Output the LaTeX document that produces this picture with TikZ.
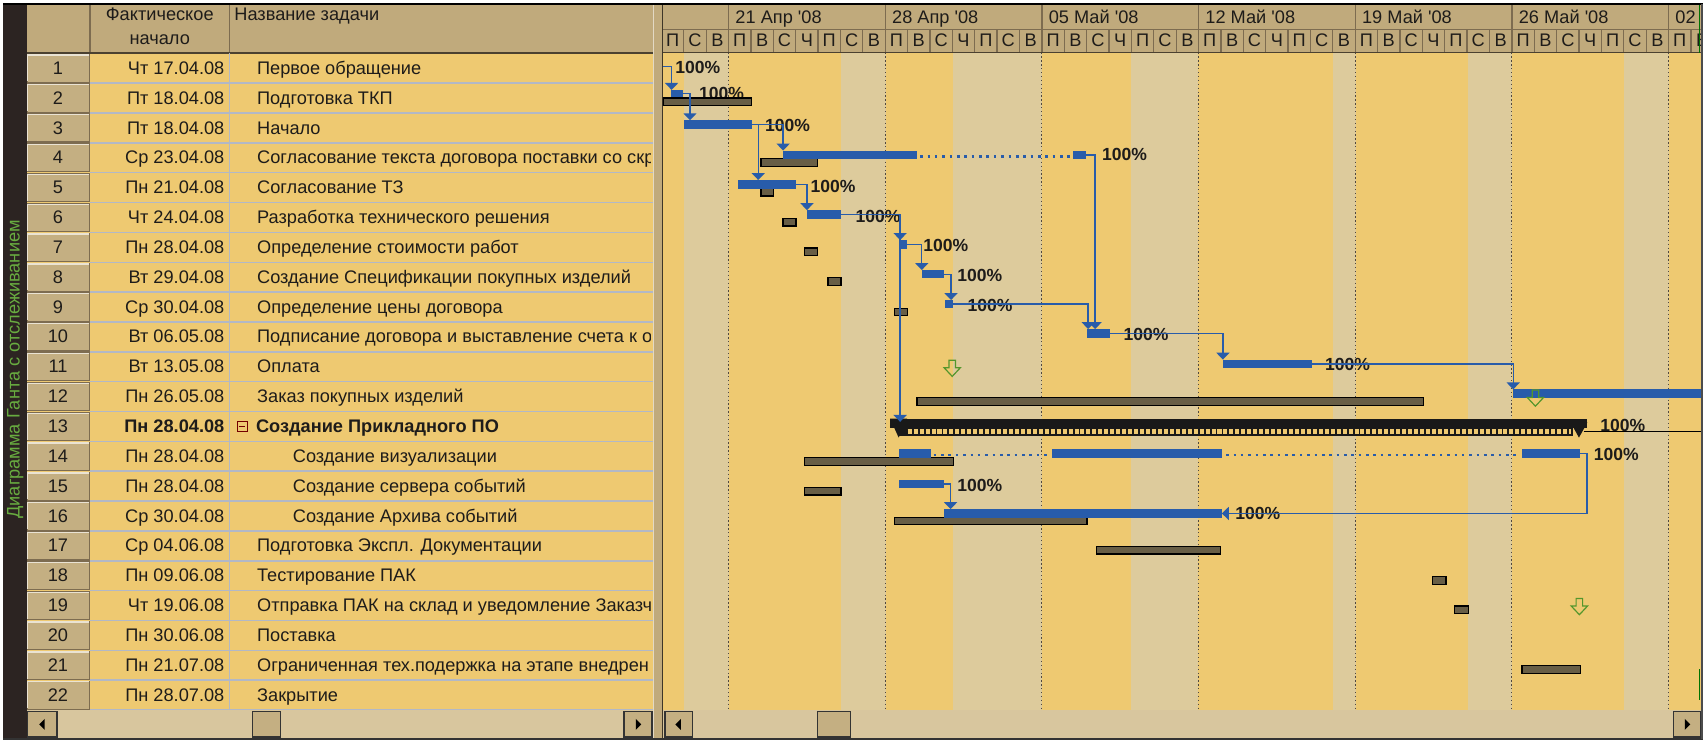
\documentclass[tikz,border=0pt]{standalone}
\usepackage{fontspec}
\setmainfont{Liberation Sans}[Ligatures=TeXOff]
\usetikzlibrary{arrows.meta,fit,calc}

\definecolor{rowbg}{RGB}{238,201,113}
\definecolor{hdr}{RGB}{192,170,124}
\definecolor{hdrline}{RGB}{125,108,80}
\definecolor{sepc}{RGB}{178,184,198}
\definecolor{nwshade}{RGB}{221,203,156}
\definecolor{wkline}{RGB}{80,72,64}
\definecolor{gblue}{RGB}{40,92,170}
\definecolor{hatchc}{RGB}{104,94,70}
\definecolor{darkstrip}{RGB}{44,36,34}
\definecolor{vgreen}{RGB}{104,172,64}
\definecolor{trk}{RGB}{216,198,158}
\definecolor{btn}{RGB}{196,175,130}
\definecolor{arrgreen}{RGB}{84,150,44}
\definecolor{txt}{RGB}{30,28,26}

\newcommand\gbar[6]{\coordinate (#2-a) at (#3,#4);\coordinate (#2-b) at (#5,#6);\node[#1,fit=(#2-a)(#2-b)] (#2) {};}
\newcommand\dayletter[1]{\ifcase#1 П\or В\or С\or Ч\or П\or С\or В\fi}
\newcommand\trow[4]{\pgfmathsetmacro\cyb{63+27.56*(#1-1)+5.6}%
 \node[numtxt] (r#1) at (53.5,\cyb) {#1};%
 \node[datetxt] (d#1) at (207.5,\cyb) {#2};%
 \node[nametxt] (n#1) at (#4,\cyb) {#3};}
\newcommand\garrow[3]{\coordinate (#1) at (#2,#3);\draw[arrgreen, line width=0.55pt] (#1) ++(4.5,0) -- ++(6,0) -- ++(0,7) -- ++(4.5,0) -- ++(-7.5,8) -- ++(-7.5,-8) -- ++(4.5,0) -- cycle;}
\newcommand\sbtn[3]{\coordinate (#1-a) at (#2,657);\coordinate (#1-b) at (#3,680.5);\node[sbutton,fit=(#1-a)(#1-b)] (#1) {};}

\tikzset{
 bluebar/.style={fill=gblue, draw=none, inner sep=0pt, outer sep=0pt, rectangle},
 basebar/.style={fill=hatchc, draw=black, line width=0.6pt, inner sep=0pt, outer sep=0pt, rectangle},
 sumtop/.style={fill=black!90, draw=none, inner sep=0pt, outer sep=0pt, rectangle},
 conn/.style={draw=gblue, line width=0.65pt, -{Triangle[width=6pt,length=3.2pt]}},
 pct/.style={anchor=base west, inner sep=0pt, text=txt, font=\fontsize{8.1}{9.6}\selectfont\bfseries},
 dotl/.style={draw=gblue, line width=1.2pt, dash pattern=on 1.2pt off 2.2pt},
 numtxt/.style={anchor=base, inner sep=0pt, text=txt},
 datetxt/.style={anchor=base east, inner sep=0pt, text=txt},
 nametxt/.style={anchor=base west, inner sep=0pt, text=txt},
 hdrtxt/.style={inner sep=0pt, text=txt},
 sbutton/.style={fill=btn, draw=black!80, line width=0.6pt, inner sep=0pt, outer sep=0pt, rectangle},
}

\begin{document}
\begin{tikzpicture}[x=0.5pt,y=-0.5pt,font=\fontsize{8.4}{9.6}\selectfont]
\useasboundingbox (0,0) rectangle (1575,687);
\fill[white] (0,0) rectangle (1575,687);

% ---------- left table ----------
\fill[darkstrip] (3,4) rectangle (24.5,682);
\node[rotate=90, text=vgreen, inner sep=0pt] (vlab) at (14,341) {Диаграмма Ганта с отслеживанием};
\fill[hdr] (24.5,4.5) rectangle (603,49);
\fill[rowbg] (24.5,49) rectangle (603,655.5);
\draw[hdrline, line width=0.7pt] (83,4.5) -- (83,49) (212,4.5) -- (212,49);
\draw[hdrline!60!black, line width=0.9pt] (24.5,49) -- (603,49);
\node[hdrtxt, anchor=base] (h1) at (147.5,19.3) {Фактическое};
\node[hdrtxt, anchor=base] (h2) at (147.5,41.5) {начало};
\node[hdrtxt, anchor=base west] (h3) at (216,19.3) {Название задачи};
\foreach \i in {1,...,22} {
  \pgfmathsetmacro\ty{49.2+27.56*(\i-1)}
  \draw[fill=btn, draw=hdrline, line width=0.5pt] (25,\ty+0.8) rectangle (82.5,\ty+26.8);
  \draw[white!65!btn, line width=0.6pt] (25.7,\ty+26) -- (25.7,\ty+1.5) -- (81.8,\ty+1.5);
  \draw[sepc, line width=0.7pt] (83,{\ty+27.56}) -- (603,{\ty+27.56});
}
\draw[sepc, line width=0.7pt] (212,49) -- (212,655.5);
\begin{scope}
\clip (24.5,49) rectangle (601,655.5);
\trow{1}{Чт 17.04.08}{Первое обращение}{237}
\trow{2}{Пт 18.04.08}{Подготовка ТКП}{237}
\trow{3}{Пт 18.04.08}{Начало}{237}
\trow{4}{Ср 23.04.08}{Согласование текста договора поставки со скр}{237}
\trow{5}{Пн 21.04.08}{Согласование ТЗ}{237}
\trow{6}{Чт 24.04.08}{Разработка технического решения}{237}
\trow{7}{Пн 28.04.08}{Определение стоимости работ}{237}
\trow{8}{Вт 29.04.08}{Создание Спецификации покупных изделий}{237}
\trow{9}{Ср 30.04.08}{Определение цены договора}{237}
\trow{10}{Вт 06.05.08}{Подписание договора и выставление счета к о}{237}
\trow{11}{Вт 13.05.08}{Оплата}{237}
\trow{12}{Пн 26.05.08}{Заказ покупных изделий}{237}
\trow{13}{\bfseries Пн 28.04.08}{\bfseries Создание Прикладного ПО}{236}
\trow{14}{Пн 28.04.08}{Создание визуализации}{270}
\trow{15}{Пн 28.04.08}{Создание сервера событий}{270}
\trow{16}{Ср 30.04.08}{Создание Архива событий}{270}
\trow{17}{Ср 04.06.08}{Подготовка Экспл. Документации}{237}
\trow{18}{Пн 09.06.08}{Тестирование ПАК}{237}
\trow{19}{Чт 19.06.08}{Отправка ПАК на склад и уведомление Заказчи}{237}
\trow{20}{Пн 30.06.08}{Поставка}{237}
\trow{21}{Пн 21.07.08}{Ограниченная тех.подержка на этапе внедрен}{237}
\trow{22}{Пн 28.07.08}{Закрытие}{237}
\node[draw=red!45!black, line width=0.5pt, minimum width=4.6pt, minimum height=4.6pt, inner sep=0pt] (mbox) at (223.5,393.7) {};
\draw[red!45!black, line width=0.5pt] ([xshift=1pt]mbox.west) -- ([xshift=-1pt]mbox.east);
\end{scope}

% divider
\fill[hdr] (603,4.5) rectangle (612,682);
\draw[white!55!hdr, line width=0.5pt] (603.6,4.5) -- (603.6,682);
\draw[hdrline!50!black, line width=0.6pt] (611.6,4.5) -- (611.6,682);

% ---------- gantt ----------
\begin{scope}
\clip (612,4.5) rectangle (1570.5,655.5);
\fill[rowbg] (612,48.5) rectangle (1571,655.5);
\foreach \a/\b in {631.3/672.6, 776.5/817.8, 879.8/962.0, 1044.6/1106.2, 1230.6/1251.7, 1355.0/1395.7, 1499.1/1540.4}
  \fill[nwshade] (\a,48.5) rectangle (\b,655.5);
\foreach \w in {0,...,6}
  \draw[wkline, line width=0.5pt, dash pattern=on 0.6pt off 1.2pt] ({672.6+144.63*\w},48.5) -- ++(0,607);
\fill[hdr] (612,4.5) rectangle (1571,48.5);
\foreach \k in {-3,...,43} {
  \pgfmathsetmacro\xk{672.6+20.662*\k}
  \pgfmathtruncatemacro\wdk{mod(\k+7,7)}
  \draw[hdrline, line width=0.6pt] (\xk,27) -- (\xk,48.5);
  \node[hdrtxt, anchor=base] (day\k) at (\xk+10.33,43) {\dayletter{\wdk}};
}
\foreach \w/\lab in {0/{21 Апр '08},1/{28 Апр '08},2/{05 Май '08},3/{12 Май '08},4/{19 Май '08},5/{26 Май '08},6/{02}} {
  \pgfmathsetmacro\xw{672.6+144.63*\w}
  \draw[hdrline, line width=0.6pt] (\xw,4.5) -- (\xw,27);
  \node[hdrtxt, anchor=base west] (wk\w) at (\xw+6,21.5) {\lab};
}
\draw[hdrline, line width=0.6pt] (612,27) -- (1571,27);
\draw[hdrline!60!black, line width=0.8pt] (612,48.5) -- (1571,48.5);
\draw[green!45!black, line width=0.8pt] (1569,4.5) -- (1569,48.5) (1569,618) -- (1569,646);

% percent labels
\node[pct] (p1) at (623,67.5) {100\%};
\node[pct] (p2) at (645,92) {100\%};
\node[pct] (p3) at (706,121.5) {100\%};
\node[pct] (p4) at (1017,148.5) {100\%};
\node[pct] (p5) at (748,177.5) {100\%};
\node[pct] (p6) at (789.5,205.5) {100\%};
\node[pct] (p7) at (852,232.5) {100\%};
\node[pct] (p8) at (883.5,260) {100\%};
\node[pct] (p9) at (893,287.5) {100\%};
\node[pct] (p10) at (1037,314) {100\%};
\node[pct] (p11) at (1223,342.5) {100\%};
\node[pct] (p13) at (1477,398) {100\%};
\node[pct] (p14) at (1471,425.5) {100\%};
\node[pct] (p15) at (883.5,453.3) {100\%};
\node[pct] (p16) at (1140,479.2) {100\%};

% dotted progress lines
\draw[dotl] (849.5,144.7) -- (989,144.7);
\draw[dotl] (862,420) -- (969,420);
\draw[dotl] (1132,420) -- (1403,420);

% baseline bars
\gbar{basebar}{h2}{612}{90.5}{694}{97.5}
\gbar{basebar}{h4}{702.5}{146.5}{755}{153.5}
\gbar{basebar}{h5}{702.5}{174}{714}{181}
\gbar{basebar}{h6}{723}{201.5}{735}{208.5}
\gbar{basebar}{h7}{743}{229}{755}{236}
\gbar{basebar}{h8}{764.5}{256.5}{776.5}{263.5}
\gbar{basebar}{h9}{826}{284.5}{838}{291.5}
\gbar{basebar}{h12}{846.7}{367}{1314}{374.5}
\gbar{basebar}{h14}{743}{422.5}{880}{429.5}
\gbar{basebar}{h15}{743}{450}{776.5}{457}
\gbar{basebar}{h16}{826}{477.5}{1003.6}{484.5}
\gbar{basebar}{h17}{1012}{504.5}{1127}{511.5}
\gbar{basebar}{h18}{1322.6}{532.4}{1335}{539.5}
\gbar{basebar}{h19}{1343}{559.5}{1356}{566.5}
\gbar{basebar}{h21}{1405}{614.5}{1459}{621.5}

% actual bars
\gbar{bluebar}{b2}{619.5}{83}{630.7}{89.5}
\gbar{bluebar}{b3}{631.6}{111}{694}{119}
\gbar{bluebar}{b4a}{723}{139}{846.5}{147}
\gbar{bluebar}{b4b}{991}{139}{1003}{147}
\gbar{bluebar}{b5}{681.5}{166.2}{735}{174.5}
\gbar{bluebar}{b6}{745}{194}{776.5}{202}
\gbar{bluebar}{b7}{831}{221.6}{837.6}{230}
\gbar{bluebar}{b8}{851}{249.3}{871.6}{257}
\gbar{bluebar}{b9}{872.6}{277}{880}{284.5}
\gbar{bluebar}{b10}{1003.6}{303.8}{1025}{312}
\gbar{bluebar}{b11}{1129}{332}{1211}{340}
\gbar{bluebar}{b12}{1397}{359.5}{1572}{367.7}
\gbar{bluebar}{b14a}{830}{414.8}{859.5}{422.8}
\gbar{bluebar}{b14b}{971}{414.8}{1128}{422.8}
\gbar{bluebar}{b14c}{1405}{414.8}{1459}{422.8}
\gbar{bluebar}{b15}{830}{443}{871.6}{450.6}
\gbar{bluebar}{b16}{871.6}{470}{1128}{478}

% summary bar (row 13)
\gbar{sumtop}{s13}{821.8}{386.5}{1465.5}{395}
\fill[black!90] (829,394) rectangle (1452,402.5);
\draw[rowbg, line width=2.1pt, dash pattern=on 1.85pt off 0.9pt] (838,398.6) -- (1450,398.6);
\fill[black!90] (s13.north west) -- ++(15.7,0) -- ++(-7.85,17.5) -- cycle;
\fill[black!90] (1450,390) -- (1465.5,390) -- (1457.7,404) -- cycle;
\draw[black, line width=0.6pt] (1462,398.6) -- (1571,398.6);

% green markers
\garrow{g11}{871.6}{332.5}
\garrow{g12}{1410}{360}
\garrow{g19}{1450.6}{552.5}

% connectors
\coordinate (c1s) at (612,61.6);
\draw[conn] (c1s) -| ($(b2.north west)+(0.5,0)$);
\draw[conn] (b2.east) -| ($(b3.north west)+(5.4,0)$);
\draw[conn] (b3.east) -| (b4a.north west);
\draw[conn] (b3.east) -| ($(b5.north west)+(18.5,0)$);
\draw[conn] (b5.east) -| (b6.north west);
\draw[conn] (b6.east) -| (b7.north west);
\draw[conn] (b6.east) -| ($(s13.north west)+(9.2,3)$);
\draw[conn] (b7.east) -| (b8.north west);
\draw[conn] (b8.east) -| ($(b9.north west)+(5.4,0)$);
\draw[conn] (b9.east) -| ($(b10.north west)+(1,0)$);
\draw[conn] (b4b.east) -| ($(b10.north west)+(7.4,0)$);
\draw[conn] (b10.east) -| (b11.north west);
\draw[conn] (b11.east) -| (b12.north west);
\draw[conn] (b15.east) -| ($(b16.north west)+(6,0)$);
\draw[conn] (b14c.east) -- ++(6,0) |- (b16.east);
\end{scope}

% ---------- scroll bars ----------
\fill[trk] (24.5,655.5) rectangle (603,682);
\fill[trk] (612,655.5) rectangle (1571,682);
\sbtn{lb1}{25.6}{52.7}
\sbtn{lt1}{233}{259}
\sbtn{rb1}{576}{602}
\sbtn{lb2}{614}{639}
\sbtn{lt2}{755}{785}
\sbtn{rb2}{1545}{1570}
\fill[black] (lb1.center) ++(-3,0) -- ++(5,-5) -- ++(0,10) -- cycle;
\fill[black] (lb2.center) ++(-3,0) -- ++(5,-5) -- ++(0,10) -- cycle;
\fill[black] (rb1.center) ++(3,0) -- ++(-5,-5) -- ++(0,10) -- cycle;
\fill[black] (rb2.center) ++(3,0) -- ++(-5,-5) -- ++(0,10) -- cycle;

% frame
\draw[black, line width=1pt] (3,4) -- (1572,4);
\draw[black!80, line width=1pt] (3,682) -- (1572,682);
\draw[black!70, line width=0.8pt] (1571,4) -- (1571,682);
\end{tikzpicture}
\end{document}
